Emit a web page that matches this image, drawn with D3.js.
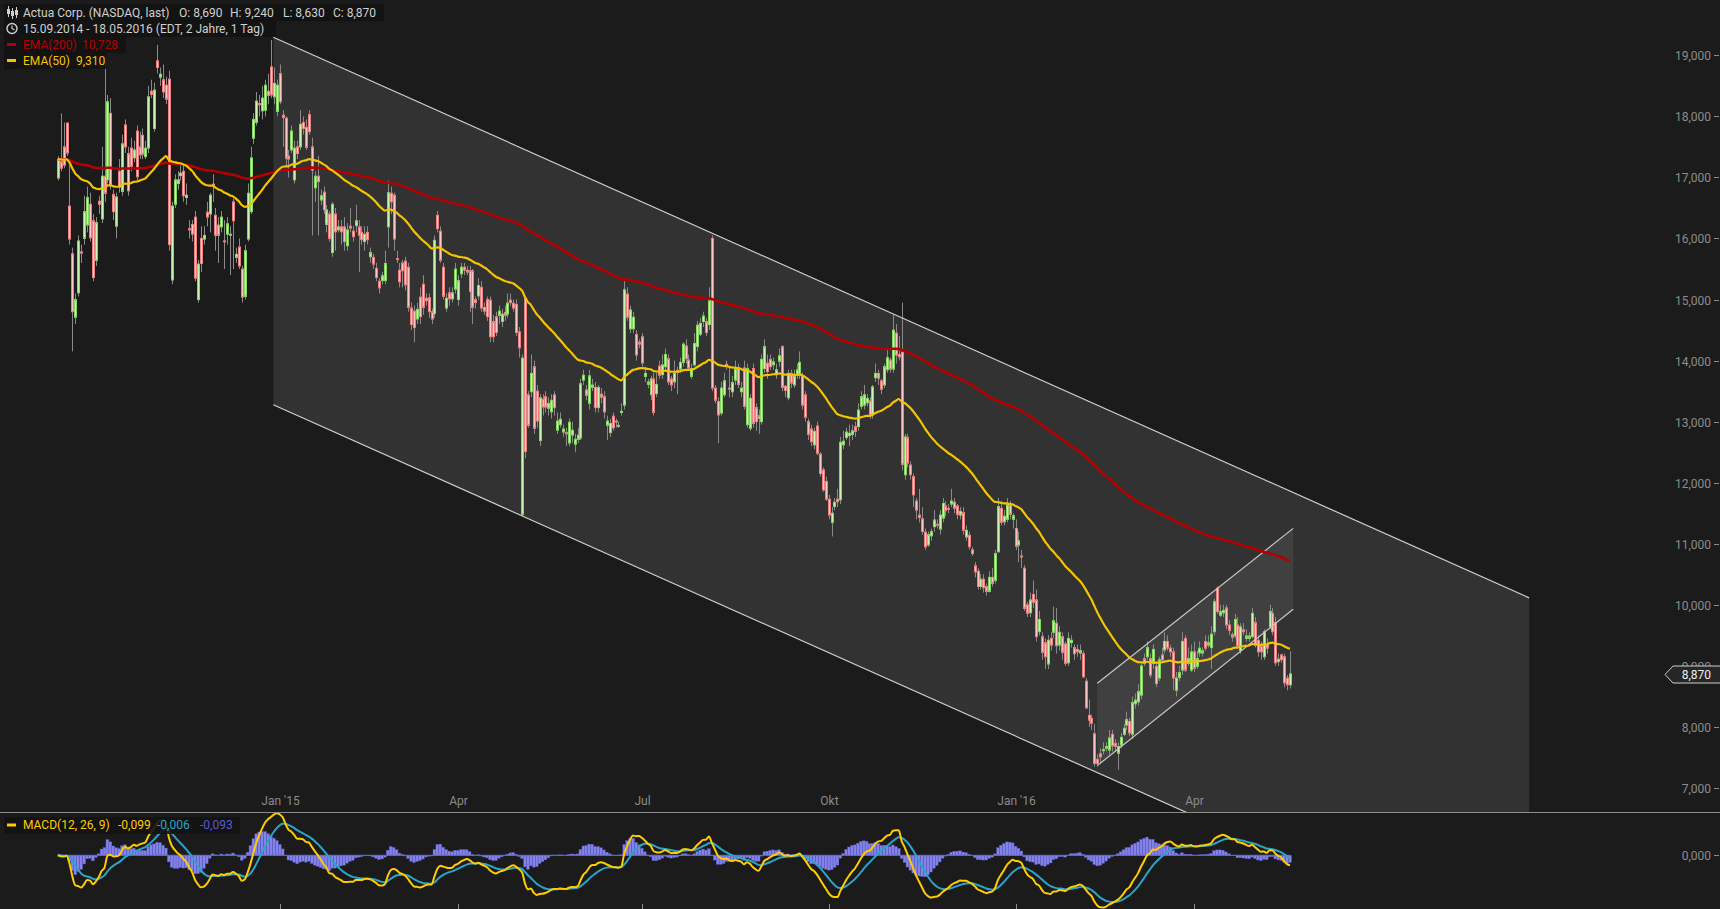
<!DOCTYPE html>
<html><head><meta charset="utf-8">
<script src="https://cdn.jsdelivr.net/npm/d3@7"></script>
<style>body{margin:0;background:#1b1b1b;overflow:hidden}svg{display:block;font-family:Roboto,"Liberation Sans",sans-serif}</style>
</head><body><svg id="c" width="1720" height="909"></svg>
<script>
// ---- data: daily candles [open, high, low, close], 15.09.2014 .. 18.05.2016 ----
const ohlc = [
[16.99,17.35,16.95,17.30],[17.26,18.05,17.10,17.15],[17.50,17.90,17.15,17.20],[17.89,17.90,17.35,17.40],[16.53,17.20,15.90,15.99],
[15.75,15.85,14.15,14.80],[14.71,15.10,14.60,15.00],[15.11,16.05,15.05,15.96],[15.78,15.90,15.60,15.76],[16.00,16.70,15.90,16.44],
[16.22,16.85,16.10,16.67],[16.56,16.75,15.95,16.01],[16.29,16.40,15.30,15.36],[15.64,16.35,15.55,16.26],[16.61,16.70,16.40,16.56],
[16.32,17.50,16.25,17.02],[17.02,18.90,16.60,16.74],[16.96,18.35,16.90,18.24],[18.05,18.30,16.80,16.88],[16.72,16.80,16.30,16.44],
[16.20,16.75,16.00,16.68],[17.10,17.30,16.75,16.85],[16.77,17.70,16.70,17.55],[17.86,17.95,17.40,17.50],[17.39,17.50,16.70,16.78],
[17.48,17.65,17.10,17.18],[17.32,17.60,17.25,17.45],[17.76,17.85,16.95,17.01],[17.50,17.75,17.30,17.37],[17.69,17.80,17.30,17.38],
[17.34,17.60,17.30,17.48],[17.48,18.50,17.40,18.32],[18.41,18.60,18.30,18.36],[17.80,18.55,17.75,18.43],[18.91,19.17,18.70,18.80],
[18.64,18.80,18.50,18.69],[18.60,18.85,18.30,18.40],[18.51,18.65,18.20,18.28],[18.61,18.75,15.80,15.90],[15.32,16.60,15.25,16.53],
[16.56,17.05,16.50,16.96],[16.90,17.10,16.80,16.96],[17.03,17.20,16.95,17.07],[17.10,17.20,16.60,16.70],[16.67,16.90,16.55,16.71],
[16.16,16.30,16.00,16.14],[16.23,16.30,15.95,16.07],[16.35,16.45,15.30,15.35],[15.00,15.65,14.95,15.58],[16.00,16.20,15.45,15.59],
[15.99,16.20,15.90,16.05],[16.43,16.60,16.20,16.35],[16.40,16.75,16.10,16.71],[16.89,17.05,16.60,16.87],[16.38,16.50,15.80,16.05],
[16.22,16.35,15.60,16.05],[16.19,16.45,16.10,16.35],[15.96,16.30,15.50,15.95],[16.07,16.35,15.90,16.24],[16.07,16.20,15.40,16.07],
[16.60,16.65,15.50,16.29],[15.69,15.85,15.60,15.74],[15.86,16.00,15.50,15.55],[15.50,15.55,14.95,15.04],[15.05,15.90,15.00,15.80],
[15.99,16.90,15.95,16.74],[16.44,17.50,16.40,17.32],[17.64,18.05,17.55,17.95],[17.90,18.40,17.85,18.25],[18.21,18.35,18.00,18.19],
[18.09,18.50,17.95,18.30],[18.10,18.60,18.00,18.51],[18.41,18.70,18.20,18.34],[18.81,19.25,18.30,18.35],[18.32,18.80,18.20,18.54],
[18.08,18.60,18.00,18.51],[18.70,18.85,18.20,18.24],[18.02,18.10,17.50,17.98],[17.97,18.00,17.20,17.31],[17.35,17.45,17.00,17.30],
[17.45,17.85,17.40,17.76],[16.96,17.60,16.90,17.48],[17.50,17.60,17.30,17.39],[17.50,18.10,17.45,17.87],[17.90,18.00,17.70,17.80],
[17.82,17.95,17.45,17.49],[18.03,18.10,17.70,17.75],[17.50,17.65,16.05,17.12],[16.83,17.10,16.60,17.02],[17.02,17.35,16.05,16.93],
[16.63,16.80,16.55,16.70],[16.76,16.85,16.40,16.47],[16.23,16.55,16.10,16.47],[16.40,16.45,15.95,16.00],[15.77,16.60,15.70,16.56],
[16.40,16.50,15.80,16.11],[16.14,16.30,16.10,16.19],[16.19,16.30,15.90,16.11],[16.19,16.35,15.80,15.95],[15.88,16.25,15.80,16.14],
[16.20,16.50,16.10,16.17],[16.12,16.20,15.95,16.03],[16.21,16.55,16.10,16.29],[16.19,16.30,15.45,16.05],[16.10,16.20,15.90,15.98],
[15.95,16.20,15.80,16.07],[16.10,16.20,15.90,15.98],[15.70,15.85,15.60,15.77],[15.69,15.75,15.50,15.58],[15.51,15.60,15.30,15.36],
[15.30,15.35,15.10,15.19],[15.31,15.45,15.25,15.39],[15.31,15.80,15.25,15.59],[16.19,16.95,15.85,16.75],[16.74,16.85,16.40,16.60],
[16.71,16.75,15.80,15.99],[15.67,15.80,15.60,15.66],[15.48,15.60,15.20,15.29],[15.60,15.65,15.20,15.47],[15.63,15.70,15.15,15.24],
[15.53,15.60,14.80,14.87],[14.86,14.95,14.50,14.59],[14.81,14.90,14.30,14.54],[14.68,14.95,14.60,14.84],[15.04,15.20,14.60,14.72],
[15.25,15.40,14.75,14.87],[15.02,15.10,14.90,14.98],[15.03,15.10,14.70,14.80],[14.80,14.85,14.60,14.68],[14.77,16.05,14.70,15.97],
[16.38,16.45,16.10,16.16],[16.12,16.20,15.60,15.64],[15.53,15.60,15.00,15.05],[14.86,15.10,14.80,15.02],[15.11,15.20,14.90,15.01],
[15.01,15.20,14.95,15.11],[15.17,15.60,15.10,15.50],[15.00,15.40,14.90,15.31],[15.42,15.60,15.35,15.53],[15.53,15.60,15.40,15.48],
[15.48,15.55,15.40,15.45],[15.47,15.55,14.80,15.13],[15.47,15.50,14.60,14.87],[15.00,15.05,14.85,14.95],[15.06,15.35,15.00,15.23],
[15.20,15.30,14.80,14.86],[14.87,14.95,14.75,14.81],[15.00,15.05,14.65,14.72],[14.99,15.05,14.30,14.39],[14.64,14.75,14.30,14.39],
[14.72,14.80,14.40,14.46],[14.74,14.90,14.60,14.81],[14.64,14.85,14.55,14.76],[14.79,14.90,14.65,14.74],[14.76,15.10,14.70,14.94],
[14.99,15.10,14.90,14.95],[14.94,15.00,14.80,14.86],[14.92,15.00,14.40,14.46],[14.47,14.55,14.05,14.21],[11.48,14.10,11.45,14.04],
[15.02,15.05,12.40,12.51],[13.44,13.50,12.90,12.94],[13.49,14.10,13.40,13.79],[13.90,14.00,12.80,12.89],[13.50,13.60,12.90,13.01],
[12.69,13.45,12.60,13.39],[13.37,13.45,13.10,13.24],[13.41,13.50,13.15,13.24],[13.22,13.40,13.10,13.30],[13.16,13.45,13.05,13.35],
[13.44,13.50,13.10,13.23],[12.86,13.15,12.80,13.01],[12.95,13.15,12.90,13.04],[12.83,12.95,12.75,12.88],[12.82,12.90,12.60,12.80],
[12.65,13.05,12.60,12.99],[12.78,13.00,12.65,12.86],[12.63,12.80,12.50,12.71],[12.71,12.90,12.65,12.78],[12.73,13.70,12.70,13.62],
[13.68,13.85,13.60,13.76],[13.52,13.60,13.35,13.43],[13.30,13.85,13.20,13.75],[13.56,13.70,13.50,13.60],[13.56,13.65,13.15,13.23],
[13.23,13.60,13.15,13.56],[13.45,13.55,13.30,13.40],[13.41,13.50,13.05,13.16],[12.94,13.10,12.70,13.01],[12.82,13.05,12.75,12.97],
[13.09,13.15,12.85,12.90],[13.01,13.05,12.90,13.00],[12.94,13.00,12.90,12.94],[13.15,13.30,13.10,13.17],[13.27,15.30,13.20,15.16],
[15.09,15.20,14.65,14.71],[14.52,14.90,14.45,14.83],[14.52,14.80,14.45,14.71],[14.43,14.50,14.00,14.09],[14.30,14.35,14.20,14.27],
[14.39,14.45,13.90,13.96],[13.74,13.90,13.65,13.79],[13.61,13.70,13.55,13.65],[13.44,13.75,13.35,13.70],[13.70,13.80,13.10,13.15],
[13.46,13.80,13.40,13.61],[13.91,14.00,13.70,13.76],[13.77,14.10,13.70,13.93],[13.90,14.20,13.85,14.10],[14.03,14.10,13.60,13.65],
[13.70,13.75,13.50,13.60],[13.65,14.00,13.55,13.79],[13.84,13.90,13.45,13.81],[13.86,14.05,13.80,13.97],[13.97,14.30,13.90,14.27],
[14.24,14.35,13.95,14.03],[14.01,14.10,13.85,13.88],[13.74,13.95,13.70,13.87],[13.93,14.45,13.90,14.28],[14.23,14.65,14.15,14.58],
[14.43,14.70,14.40,14.61],[14.64,14.80,14.55,14.73],[14.64,14.70,14.40,14.46],[14.59,15.20,14.50,14.98],[16.00,16.05,13.50,13.55],
[13.55,13.60,13.30,13.35],[13.33,13.40,12.65,13.11],[13.14,13.65,13.10,13.55],[13.44,13.80,13.40,13.67],[13.94,14.00,13.85,13.90],
[13.55,13.90,13.40,13.54],[13.49,13.75,13.40,13.64],[13.68,14.00,13.60,13.87],[13.88,13.95,13.55,13.61],[13.49,13.65,13.40,13.55],
[13.88,14.00,13.20,13.25],[12.95,13.95,12.90,13.87],[12.89,13.45,12.85,13.38],[13.87,13.95,12.90,12.97],[13.23,13.30,12.85,13.00],
[13.10,13.20,12.80,13.05],[13.00,14.10,12.95,14.02],[13.87,14.35,13.80,14.23],[13.96,14.10,13.70,13.82],[14.02,14.10,13.85,13.90],
[13.93,14.05,13.85,13.98],[13.77,13.95,13.70,13.85],[13.99,14.20,13.90,14.08],[14.23,14.25,13.50,13.56],[13.58,13.60,13.40,13.51],
[13.39,13.85,13.35,13.79],[13.79,13.85,13.55,13.63],[13.60,13.85,13.55,13.74],[13.76,13.95,13.70,13.85],[13.76,14.15,13.70,13.97],
[13.74,13.80,13.20,13.27],[13.44,13.50,13.00,13.07],[13.00,13.05,12.70,12.79],[12.88,12.95,12.60,12.67],[12.62,12.90,12.55,12.84],
[12.93,13.00,12.45,12.48],[12.47,12.50,12.10,12.15],[12.21,12.25,11.85,11.88],[12.02,12.10,11.70,11.73],[11.73,11.80,11.40,11.47],
[11.35,11.60,11.12,11.50],[11.61,11.75,11.55,11.68],[11.73,11.90,11.60,11.69],[11.72,12.75,11.65,12.66],[12.62,12.85,12.55,12.68],
[12.74,12.90,12.70,12.83],[12.77,12.95,12.60,12.81],[12.79,12.95,12.70,12.85],[12.92,13.00,12.75,12.84],[12.92,13.30,12.85,13.19],
[13.25,13.50,13.20,13.41],[13.27,13.60,13.20,13.44],[13.31,13.45,13.25,13.38],[13.34,13.40,13.05,13.11],[13.11,13.60,13.05,13.57],
[13.72,13.95,13.65,13.79],[13.79,13.85,13.60,13.71],[13.67,13.70,13.45,13.53],[13.60,13.95,13.55,13.90],[13.85,14.20,13.80,14.05],
[14.01,14.05,13.80,13.86],[13.86,14.75,13.80,14.50],[14.45,14.60,13.95,14.09],[14.10,14.40,14.00,14.06],[14.14,14.95,12.20,12.30],
[12.13,12.80,12.05,12.75],[12.74,12.80,12.25,12.32],[12.29,12.35,12.05,12.13],[12.10,12.15,11.60,11.80],[11.70,11.75,11.40,11.55],
[11.47,11.90,11.35,11.43],[11.41,11.60,11.15,11.20],[11.19,11.25,10.90,10.95],[10.98,11.20,10.95,11.15],[11.13,11.25,11.05,11.20],
[11.28,11.55,11.20,11.39],[11.32,11.40,11.25,11.31],[11.24,11.55,11.15,11.47],[11.42,11.75,11.35,11.66],[11.62,11.70,11.45,11.54],
[11.58,11.65,11.50,11.57],[11.65,11.90,11.60,11.70],[11.68,11.75,11.50,11.58],[11.62,11.65,11.40,11.48],[11.47,11.60,11.40,11.53],
[11.51,11.60,11.15,11.22],[11.11,11.30,11.05,11.22],[11.14,11.20,10.90,10.95],[10.90,10.95,10.80,10.84],[10.64,10.70,10.45,10.54],
[10.55,10.60,10.25,10.30],[10.30,10.50,10.25,10.42],[10.42,10.50,10.20,10.28],[10.30,10.35,10.15,10.22],[10.22,10.55,10.20,10.45],
[10.45,10.60,10.30,10.35],[10.40,10.90,10.35,10.84],[10.87,11.75,10.85,11.61],[11.58,11.70,11.30,11.35],[11.36,11.55,11.30,11.45],
[11.40,11.75,11.35,11.64],[11.64,11.70,11.40,11.48],[11.40,11.50,11.25,11.46],[11.25,11.40,10.90,10.96],[10.98,11.20,10.70,11.05],
[10.80,10.90,10.60,10.79],[10.60,10.65,9.90,9.94],[10.00,10.05,9.80,9.86],[9.87,10.20,9.80,10.08],[10.17,10.40,9.95,10.04],
[10.08,10.25,9.40,9.48],[9.56,9.90,9.50,9.76],[9.48,9.55,9.10,9.22],[9.38,9.45,8.95,9.15],[9.03,9.50,8.95,9.42],
[9.45,9.55,9.25,9.34],[9.55,9.97,9.45,9.74],[9.70,9.95,9.20,9.33],[9.34,9.65,9.25,9.55],[9.48,9.55,9.10,9.22],
[9.36,9.40,9.00,9.04],[9.05,9.55,9.00,9.45],[9.38,9.50,9.30,9.42],[9.30,9.35,9.10,9.20],[9.27,9.35,9.15,9.23],
[9.21,9.35,9.10,9.25],[9.20,9.25,8.80,8.82],[8.75,8.80,8.30,8.31],[8.19,8.45,8.00,8.11],[8.14,8.20,7.95,8.06],
[7.89,8.05,7.35,7.40],[7.47,7.55,7.35,7.40],[7.56,7.65,7.40,7.51],[7.61,7.75,7.55,7.63],[7.65,7.75,7.60,7.68],
[7.62,7.95,7.55,7.82],[7.88,7.95,7.60,7.69],[7.73,7.80,7.60,7.68],[7.57,7.75,7.30,7.68],[7.70,7.90,7.65,7.83],
[7.88,8.05,7.85,7.98],[8.03,8.25,7.95,8.12],[8.09,8.15,7.85,7.90],[7.88,8.50,7.80,8.40],[8.38,8.55,8.30,8.44],
[8.41,8.70,8.35,8.58],[8.52,9.05,8.45,9.00],[9.12,9.20,9.00,9.04],[9.15,9.40,9.10,9.30],[9.12,9.20,8.80,8.85],
[9.04,9.35,8.95,9.27],[8.99,9.05,8.65,8.71],[8.80,9.15,8.75,9.10],[9.18,9.30,9.05,9.10],[9.26,9.55,9.20,9.40],
[9.40,9.50,9.25,9.29],[9.29,9.35,9.15,9.23],[9.23,9.30,8.60,8.80],[8.60,8.90,8.50,8.80],[8.81,9.00,8.75,8.89],
[8.93,9.55,8.85,9.40],[9.45,9.50,8.90,8.93],[9.04,9.30,9.00,9.12],[8.93,9.35,8.90,9.23],[9.23,9.40,8.90,8.96],
[8.99,9.25,8.95,9.12],[9.21,9.40,9.15,9.29],[9.21,9.30,9.15,9.25],[9.40,9.50,9.25,9.29],[9.34,9.50,9.30,9.38],
[9.30,9.65,8.95,9.52],[9.56,10.10,9.50,10.05],[10.27,10.30,9.85,9.89],[9.83,10.00,9.80,9.89],[9.87,10.00,9.80,9.91],
[9.95,10.00,9.60,9.67],[9.67,9.75,9.50,9.58],[9.51,9.55,9.40,9.47],[9.49,9.85,9.45,9.76],[9.67,9.80,9.30,9.33],
[9.25,9.70,9.20,9.64],[9.59,9.70,9.50,9.56],[9.45,9.60,9.40,9.49],[9.45,9.55,9.40,9.49],[9.48,9.95,9.45,9.86],
[9.71,9.80,9.30,9.34],[9.42,9.50,9.15,9.23],[9.33,9.40,9.10,9.23],[9.15,9.60,9.10,9.56],[9.34,9.45,9.20,9.29],
[9.64,10.00,9.60,9.89],[9.86,9.95,9.50,9.56],[9.71,9.80,9.00,9.05],[9.07,9.20,9.00,9.11],[9.18,9.20,9.05,9.10],
[9.15,9.20,8.65,8.72],[8.80,8.85,8.60,8.69],[8.69,9.24,8.63,8.87]
];
// x axis: trading-day index of the first session of each labelled month
const xTickLabels = ["Jan '15","Apr","Jul","Okt","Jan '16","Apr"];
const xTickIndex  = [76,137,200,264,328,389];
const yTickValues = [7,8,9,10,11,12,13,14,15,16,17,18,19];
// legend texts
const titleText  = "Actua Corp. (NASDAQ, last)";
const ohlcLegend = [["O:","8,690"],["H:","9,240"],["L:","8,630"],["C:","8,870"]];
const rangeText  = "15.09.2014 - 18.05.2016 (EDT, 2 Jahre, 1 Tag)";
const emaLegend  = [["EMA(200)","10,728"],["EMA(50)","9,310"]];
const macdLegend = ["MACD(12, 26, 9)","-0,099","-0,006","-0,093"];
const lastPrice  = 8.87;
// drawn trend channels: [index, upper price, lower price] at start and end
const bigChannel   = [[73.8,19.295,13.276],[503.9,10.114,4.095]];
const smallChannel = [[356.0,8.715,7.366],[423.1,11.252,9.927]];

// ---- drawing ----
const W=1720,H=909, PANEL_BOTTOM=812;
const svg=d3.select("#c");
const x=d3.scaleLinear().domain([0,ohlc.length-1]).range([57.8,1290]);
const y=d3.scaleLinear().domain([7,19]).range([788,55.3]);
const yM=d3.scaleLinear().domain([-1,1]).range([930.3,780.3]);
const loc=d3.formatLocale({decimal:",",thousands:".",grouping:[3],currency:["",""]});
const f3=loc.format(".3f");

const defs=svg.append("defs");
defs.append("clipPath").attr("id","cp").append("rect").attr("x",0).attr("y",0).attr("width",W).attr("height",PANEL_BOTTOM);
defs.append("clipPath").attr("id","cm").append("rect").attr("x",0).attr("y",PANEL_BOTTOM+1).attr("width",W).attr("height",H-PANEL_BOTTOM-1);

svg.append("rect").attr("width",W).attr("height",H).attr("fill","#1b1b1b");

const gP=svg.append("g").attr("clip-path","url(#cp)");
function chanPoly(c){return [[x(c[0][0]),y(c[0][1])],[x(c[1][0]),y(c[1][1])],[x(c[1][0]),y(c[1][2])],[x(c[0][0]),y(c[0][2])]];}
gP.append("polygon").attr("points",chanPoly(bigChannel).join(" ")).attr("fill","#323232");
gP.append("polygon").attr("points",chanPoly(smallChannel).join(" ")).attr("fill","#404040");

// candles
const closes=ohlc.map(d=>d[3]);
const gC=gP.append("g");
ohlc.forEach((d,i)=>{
  const [o,h0,l0,c]=d, h=Math.max(h0,o,c), l=Math.min(l0,o,c);
  const xi=Math.round(x(i));
  gC.append("line").attr("x1",xi+0.5).attr("x2",xi+0.5).attr("y1",y(h)).attr("y2",y(l)).attr("stroke","#8a8a8a").attr("stroke-width",1);
  const up=c>=o;
  const top=y(Math.max(o,c)), bot=y(Math.min(o,c));
  gC.append("rect").attr("x",xi-0.5).attr("y",top).attr("width",2).attr("height",Math.max(1,bot-top))
    .attr("fill",up?"#c8f5b0":"#ffc6c6").attr("stroke",up?"#86d662":"#ea8080").attr("stroke-width",1);
});

// channel lines
function chanLines(c,col){
  [1,2].forEach(k=>gP.append("line").attr("x1",x(c[0][0])).attr("y1",y(c[0][k])).attr("x2",x(c[1][0])).attr("y2",y(c[1][k]))
    .attr("stroke",col).attr("stroke-width",1.2));
}
chanLines(bigChannel,"#d0d0d0");
chanLines(smallChannel,"#c8c8c8");

// EMAs
function ema(arr,n){const k=2/(n+1),out=[];arr.forEach((v,i)=>out.push(i?v*k+out[i-1]*(1-k):v));return out;}
const ema200=ema(closes,200), ema50=ema(closes,50);
const line=d3.line().x((d,i)=>x(i)).y(d=>y(d)).curve(d3.curveMonotoneX);
gP.append("path").attr("d",line(ema200)).attr("fill","none").attr("stroke","#b40000").attr("stroke-width",2.6);
gP.append("path").attr("d",line(ema50)).attr("fill","none").attr("stroke","#f5c400").attr("stroke-width",2.2);

// MACD
const e12=ema(closes,12), e26=ema(closes,26);
const macd=e12.map((v,i)=>v-e26[i]);
const signal=ema(macd,9);
const hist=macd.map((v,i)=>v-signal[i]);
const gM=svg.append("g").attr("clip-path","url(#cm)");
const step=x(1)-x(0);
hist.forEach((v,i)=>{
  const y0=yM(0), y1=yM(v);
  gM.append("rect").attr("x",x(i)-step/2).attr("width",step).attr("y",Math.min(y0,y1)).attr("height",Math.abs(y1-y0))
    .attr("fill","#8383ea").attr("stroke","#5656c0").attr("stroke-width",0.4);
});
gM.append("line").attr("x1",x(0)).attr("x2",x(ohlc.length-1)).attr("y1",yM(0)).attr("y2",yM(0)).attr("stroke","#6a6ad8").attr("stroke-width",1);
const lineM=d3.line().x((d,i)=>x(i)).y(d=>yM(d)).curve(d3.curveMonotoneX);
gM.append("path").attr("d",lineM(signal)).attr("fill","none").attr("stroke","#2ba4c8").attr("stroke-width",2);
gM.append("path").attr("d",lineM(macd)).attr("fill","none").attr("stroke","#ffcc00").attr("stroke-width",2);

// separator
svg.append("line").attr("x1",0).attr("x2",W).attr("y1",PANEL_BOTTOM+0.5).attr("y2",PANEL_BOTTOM+0.5).attr("stroke","#8a8a8a");

// y axis (price)
const axCol="#8c8c8c";
yTickValues.forEach(v=>{
  const yy=Math.round(y(v))+0.5;
  svg.append("line").attr("x1",1714).attr("x2",1719).attr("y1",yy).attr("y2",yy).attr("stroke",axCol);
  svg.append("text").attr("x",1711).attr("y",yy).attr("dy","0.35em").attr("text-anchor","end").attr("fill",axCol).attr("font-size",12).text(f3(v));
});
// MACD zero tick
{const yy=Math.round(yM(0))+0.5;
 svg.append("line").attr("x1",1714).attr("x2",1719).attr("y1",yy).attr("y2",yy).attr("stroke",axCol);
 svg.append("text").attr("x",1711).attr("y",yy).attr("dy","0.35em").attr("text-anchor","end").attr("fill",axCol).attr("font-size",12).text(f3(0));}

// last price marker
{const yy=Math.round(y(lastPrice))+0.5;
 svg.append("path").attr("d",`M1665,${yy} L1673,${yy-8.5} L1721,${yy-8.5} L1721,${yy+8.5} L1673,${yy+8.5} Z`).attr("fill","#262626").attr("stroke","#cfcfcf");
 svg.append("text").attr("x",1711).attr("y",yy).attr("dy","0.35em").attr("text-anchor","end").attr("fill","#f0f0f0").attr("font-size",12).text(f3(lastPrice));}

// x axis
xTickIndex.forEach((ix,k)=>{
  const xx=Math.round(x(ix))+0.5;
  svg.append("text").attr("x",xx).attr("y",801).attr("dy","0.35em").attr("text-anchor","middle").attr("fill",axCol).attr("font-size",12).text(xTickLabels[k]);
  svg.append("line").attr("x1",xx).attr("x2",xx).attr("y1",904).attr("y2",909).attr("stroke",axCol);
});

// legends
const lg=svg.append("g").attr("font-size",12);
function box(x0,y0,w,h){lg.append("rect").attr("x",x0).attr("y",y0).attr("width",w).attr("height",h).attr("fill","#131313").attr("opacity",0.9);}
box(4,4,380,17); box(4,20,272,17); box(4,36,122,17); box(4,52,102,17);
// candle icon
[[8,6,13],[12,8,15],[16,7,14]].forEach(b=>{lg.append("line").attr("x1",b[0]+0.5).attr("x2",b[0]+0.5).attr("y1",b[1]).attr("y2",b[2]+4).attr("stroke","#cfcfcf");
  lg.append("rect").attr("x",b[0]-1).attr("y",b[1]+3).attr("width",3).attr("height",5).attr("fill","#cfcfcf");});
lg.append("text").attr("x",23).attr("y",13).attr("dy","0.35em").attr("fill","#d0d0d0").text(titleText);
const ohlcX=[179,230,283,333];
ohlcLegend.forEach((p,k)=>lg.append("text").attr("x",ohlcX[k]).attr("y",13).attr("dy","0.35em").attr("fill","#d0d0d0").text(p[0]+" "+p[1]));
// clock icon
lg.append("circle").attr("cx",12).attr("cy",28.5).attr("r",5).attr("fill","none").attr("stroke","#d0d0d0").attr("stroke-width",1.4);
lg.append("path").attr("d","M12,25.5 L12,28.5 L14.5,30").attr("fill","none").attr("stroke","#d0d0d0").attr("stroke-width",1.2);
lg.append("text").attr("x",23).attr("y",28.5).attr("dy","0.35em").attr("fill","#d0d0d0").text(rangeText);
const emaCols=["#b40000","#f5c400"], emaValX=[82,76];
emaLegend.forEach((e,k)=>{
  const yy=44.5+k*16;
  lg.append("rect").attr("x",7).attr("y",yy-1.5).attr("width",9).attr("height",3).attr("fill",emaCols[k]);
  lg.append("text").attr("x",23).attr("y",yy).attr("dy","0.35em").attr("fill",emaCols[k]).text(e[0]);
  lg.append("text").attr("x",emaValX[k]).attr("y",yy).attr("dy","0.35em").attr("fill",emaCols[k]).text(e[1]);
});
// MACD legend
box(4,817,236,17);
lg.append("rect").attr("x",7).attr("y",823.5).attr("width",9).attr("height",3).attr("fill","#ffcc00");
const mCols=["#ffcc00","#ffcc00","#2ba4c8","#5a5ad0"], mX=[23,118,157,200];
macdLegend.forEach((t,k)=>lg.append("text").attr("x",mX[k]).attr("y",825).attr("dy","0.35em").attr("fill",mCols[k]).text(t));
</script></body></html>
